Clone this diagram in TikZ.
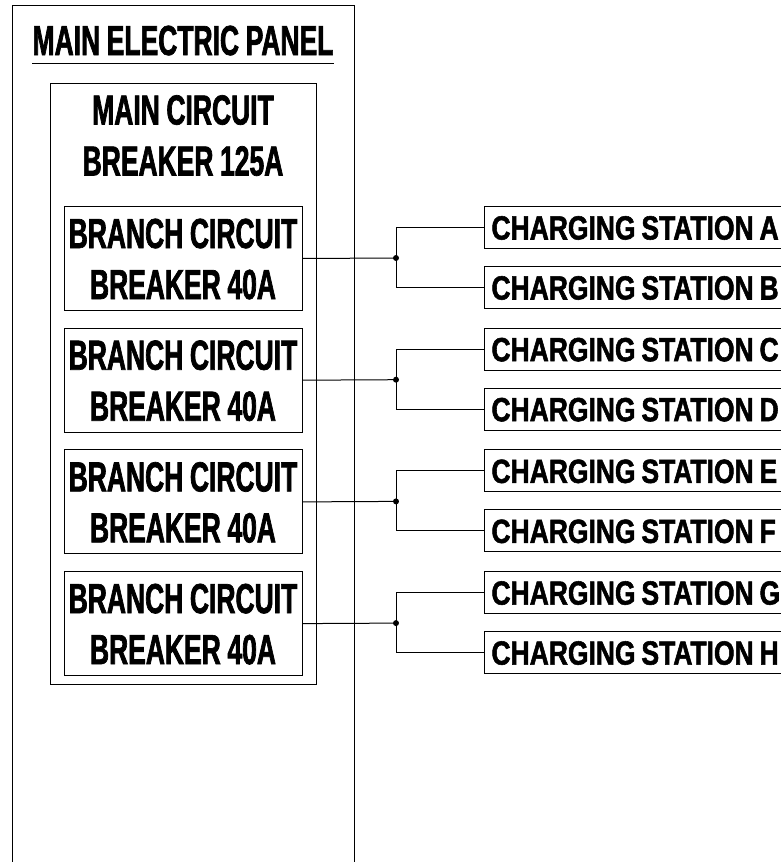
\documentclass[tikz,border=0pt]{standalone}
\usepackage{fontspec}
\newfontfamily\condA{Liberation Sans Bold}[FakeStretch=0.63,WordSpace=0.9,FakeBold=1.6]
\newfontfamily\condB{Liberation Sans Bold}[FakeStretch=0.79,WordSpace=0.8,FakeBold=1.6]
\begin{document}
\begin{tikzpicture}[x=1pt,y=-1pt, line width=1pt,
  boxs/.style={draw, rectangle, inner sep=0pt},
  bigtext/.style={font=\condA\fontsize{42}{51}\selectfont, text height=30pt, text depth=0pt, align=center},
  twotext/.style={bigtext, text height=81pt},
  brk/.style={boxs, twotext, minimum width=238pt, minimum height=104pt},
  stn/.style={draw, rectangle, anchor=north west,
    inner xsep=7pt, inner ysep=0pt, minimum height=42pt,
    font=\condB\fontsize{33.5}{40}\selectfont, text height=24pt, text depth=0pt},
  junction/.style={circle, fill, inner sep=0pt, minimum size=6pt}]
\useasboundingbox (0,0) rectangle (781,862);
\node[boxs, anchor=north west, minimum width=342pt, minimum height=920pt] (panel) at (12,5) {};
\node[bigtext, inner sep=0pt] (title) at (183,40) {MAIN ELECTRIC PANEL};
\coordinate (ulA) at (32,63);
\coordinate (ulB) at (334,63);
\draw (ulA) -- (ulB);
\node[boxs, anchor=north west, minimum width=266pt, minimum height=601pt] (mcb) at (50,83) {};
\node[twotext, inner sep=0pt] (mcbtext) at (183,135) {MAIN CIRCUIT\\BREAKER 125A};
\foreach \i/\up/\dn in {0/A/B,1/C/D,2/E/F,3/G/H} {
  \pgfmathsetmacro\T{206+121.7*\i}
  \pgfmathsetmacro\Tb{\T+60}
  \pgfmathsetmacro\Tj{\T+52}
  \node[brk, anchor=north] (br\i) at (183,\T) {BRANCH CIRCUIT\\BREAKER 40A};
  \node[stn] (st\up) at (484,\T) {CHARGING STATION \up\rule{60pt}{0pt}};
  \node[stn] (st\dn) at (484,\Tb) {CHARGING STATION \dn\rule{60pt}{0pt}};
  \node[junction] (j\i) at (396,\Tj) {};
  \draw (br\i.east) -- (j\i.center);
  \draw (j\i.center) |- (st\up.west);
  \draw (j\i.center) |- (st\dn.west);
}
\end{tikzpicture}
\end{document}
